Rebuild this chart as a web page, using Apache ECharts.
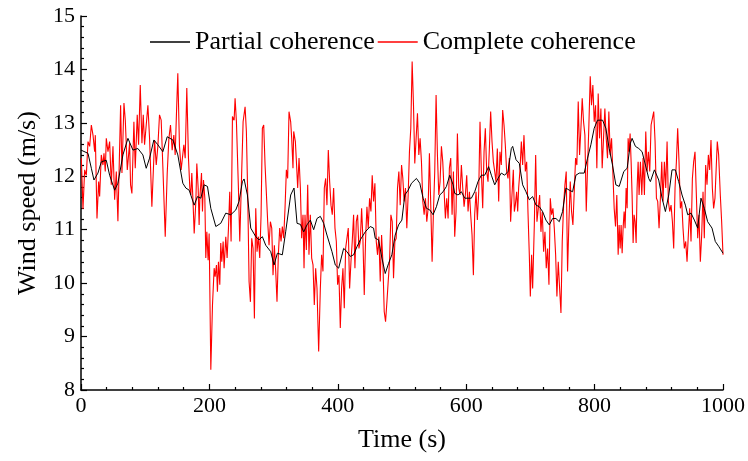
<!DOCTYPE html>
<html><head><meta charset="utf-8">
<script src="https://cdn.jsdelivr.net/npm/echarts@6/dist/echarts.min.js"></script>
<style>html,body{margin:0;padding:0;background:#fff}#c{width:748px;height:461px}</style>
</head><body><div id="c"></div><script>
const seriesNames = ['Partial coherence', 'Complete coherence'];
const xAxisTitle = 'Time (s)';
const yAxisTitle = 'Wind speed (m/s)';

const partialTime = [0,10.9,16.1,20.2,26.4,31.6,39.4,44.6,52.4,57.5,65.3,73.1,80.9,88.6,96.4,101.6,106.8,113.5,119.7,127.5,134.3,143.1,150.8,158.6,163.3,168.5,176.3,181.4,186.6,191.8,197.0,202.2,210.0,217.7,225.5,233.3,241.1,246.2,251.4,254.0,259.2,264.4,272.2,277.3,282.5,287.7,295.5,300.7,305.9,313.6,318.8,326.6,331.8,336.5,341.7,346.9,352.0,357.2,362.4,367.6,372.8,378.0,383.1,390.9,396.1,401.3,409.1,414.2,419.4,424.6,429.8,435.0,442.8,450.5,455.7,458.3,463.5,468.7,473.9,479.1,484.2,489.4,494.6,499.8,504.4,509.6,514.8,522.5,527.7,532.9,538.1,543.3,548.4,553.6,558.8,564.0,569.2,574.4,579.6,582.1,587.3,592.5,597.7,608.1,613.2,618.4,623.6,628.8,635.0,639.2,644.4,649.5,654.7,659.9,665.1,670.3,672.4,677.6,682.8,687.9,693.1,698.3,703.5,708.7,713.9,719.0,724.2,729.4,734.6,739.8,745.0,750.1,755.3,760.5,765.7,770.9,776.1,783.8,789.0,794.2,799.4,804.6,812.4,817.5,822.7,827.9,833.1,838.3,840.3,845.5,850.7,855.8,858.4,863.6,868.8,874.0,879.2,884.3,886.9,893.2,899.9,905.1,910.3,915.5,920.6,925.8,931.0,936.2,941.4,945.0,950.2,955.4,960.6,965.7,970.9,976.1,982.9,988.0,993.2,1000];
const partialSpeed = [12.49,12.43,12.15,11.93,12.06,12.27,12.30,12.02,11.74,11.87,12.40,12.71,12.49,12.52,12.40,12.15,12.34,12.68,12.59,12.46,12.74,12.68,12.40,11.87,11.78,11.74,11.46,11.62,11.59,11.84,11.81,11.40,11.06,11.12,11.31,11.28,11.37,11.53,11.90,11.95,11.65,11.03,10.87,10.81,10.87,10.71,10.59,10.34,10.56,10.53,10.96,11.65,11.78,11.12,11.10,10.96,11.09,11.18,11.00,11.21,11.25,11.12,10.90,10.59,10.34,10.28,10.65,10.59,10.50,10.53,10.68,10.81,10.96,11.06,11.03,10.84,10.81,10.47,10.18,10.37,10.53,10.90,11.09,11.18,11.65,11.74,11.87,11.96,11.87,11.59,11.40,11.37,11.28,11.43,11.65,11.71,11.81,12.02,11.84,11.68,11.65,11.71,11.59,11.59,11.71,11.90,12.02,12.02,12.18,12.02,11.84,11.96,12.06,12.02,12.09,12.52,12.56,12.31,12.24,11.84,11.71,11.56,11.62,11.46,11.43,11.34,11.18,11.09,11.21,11.21,11.15,11.34,11.78,11.74,11.71,12.02,12.06,12.06,12.34,12.59,12.90,13.05,13.05,12.90,12.52,12.21,11.84,11.81,11.78,12.09,12.15,12.62,12.71,12.56,12.52,12.46,12.21,11.96,11.90,12.12,11.93,11.59,11.34,11.65,12.12,12.12,11.90,11.65,11.46,11.28,11.31,11.18,11.03,11.59,11.40,11.15,11.03,10.78,10.69,10.56];

const completeTime = [0.5,3.1,5.7,8.3,10.9,13.5,16.1,18.7,21.3,22.3,24.9,27.5,29.0,31.6,34.2,35.8,37.8,39.4,42.0,44.6,47.2,49.8,52.4,55.0,57.5,61.7,63.8,66.9,69.0,72.1,75.7,77.2,79.3,82.4,84.5,87.6,89.7,92.3,94.9,97.0,99.0,104.2,106.8,110.4,114.6,117.2,119.7,122.3,124.9,127.5,131.2,134.3,136.9,139.4,142.0,144.6,146.7,148.8,150.8,153.4,156.0,160.2,162.3,164.8,167.4,169.5,171.1,172.6,174.7,176.3,178.9,180.4,182.5,184.0,185.1,187.7,189.2,190.8,192.9,194.4,196.0,198.0,199.6,202.2,204.8,207.4,208.9,211.0,212.5,214.1,216.2,217.7,219.3,221.4,222.9,225.5,227.6,229.7,231.7,233.8,235.9,238.5,240.0,242.1,245.2,247.3,250.4,252.5,255.6,257.6,259.7,261.8,263.9,265.9,268.0,270.1,272.2,274.2,276.3,278.4,280.5,282.5,284.6,286.7,288.8,290.8,292.9,295.0,297.1,299.1,301.2,303.3,305.3,307.4,309.5,311.6,313.6,315.7,317.8,319.9,321.9,324.0,326.6,328.2,330.2,331.3,333.9,335.4,337.5,339.6,341.7,343.7,345.8,347.4,348.9,351.0,353.1,355.1,357.2,359.3,361.4,363.4,365.5,367.6,370.2,372.8,374.8,376.9,379.0,381.1,383.1,385.2,387.3,389.4,391.4,393.5,395.6,397.7,399.7,401.8,403.9,405.9,408.0,410.1,412.2,414.2,416.3,418.4,420.5,422.5,424.6,426.7,428.8,430.8,432.9,435.0,437.1,439.1,441.2,443.3,445.4,447.4,449.5,451.6,453.6,455.7,457.8,459.9,461.9,464.0,466.1,468.2,470.2,472.3,474.4,476.5,478.5,480.6,482.7,484.8,486.8,488.9,491.0,493.0,495.1,497.2,499.3,501.3,503.3,505.4,507.5,509.6,511.6,513.7,515.8,517.9,519.9,522.0,524.1,526.2,528.2,530.3,532.4,534.5,536.5,538.6,540.7,542.7,544.8,546.9,549.0,551.0,553.1,555.2,557.3,559.3,561.4,563.5,565.6,567.6,569.7,571.8,573.8,575.9,578.0,580.1,582.1,584.2,586.3,588.4,590.4,592.5,594.6,596.7,598.7,600.8,602.9,605.0,607.0,609.1,611.2,613.2,615.3,617.4,619.5,621.5,623.6,625.7,627.8,629.8,631.9,634.0,636.1,638.1,640.2,642.3,644.4,646.4,648.5,650.6,652.6,654.7,656.8,658.9,660.9,663.0,665.1,667.2,669.2,671.3,673.4,675.0,676.5,678.6,680.2,681.7,683.8,685.9,687.9,690.0,692.1,694.2,696.2,698.3,699.9,701.9,703.5,706.1,708.2,710.2,712.3,714.4,716.4,718.5,720.6,722.7,724.7,726.8,728.9,731.0,733.0,735.1,737.2,739.3,741.3,743.4,745.5,747.6,749.6,751.7,753.8,755.8,757.9,760.0,762.1,764.1,766.2,768.3,770.4,772.4,774.5,776.6,778.7,780.7,782.8,784.9,787.0,789.0,791.1,793.2,795.2,797.3,799.4,801.5,803.5,805.6,807.7,809.8,811.8,813.9,816.0,818.1,820.1,822.2,824.3,826.4,828.4,830.5,832.6,834.6,836.7,838.2,839.8,841.3,842.9,844.4,846.0,847.5,849.1,850.7,852.2,853.8,855.3,856.9,858.4,860.0,861.5,863.1,864.7,866.2,867.8,869.3,871.4,873.5,875.5,877.6,879.7,881.8,883.8,885.9,888.0,890.1,892.1,894.2,896.3,898.3,900.4,902.5,904.6,906.6,908.7,910.8,912.9,914.9,917.0,919.1,921.2,923.2,925.3,927.4,929.4,931.5,933.6,935.7,937.7,939.8,941.9,944.0,946.0,948.1,950.2,952.3,954.3,956.4,958.5,960.6,962.6,964.7,966.8,968.9,970.9,973.0,975.1,977.2,979.2,981.3,983.4,985.4,987.5,989.6,991.1,993.2,995.8,997.9,1000];
const completeSpeed = [12.34,11.39,12.12,12.02,12.65,12.56,12.96,12.77,12.46,12.77,11.21,11.90,11.62,12.40,12.21,12.43,12.09,12.71,12.46,12.65,11.84,12.56,11.56,12.09,11.16,13.33,12.06,13.37,13.05,12.12,12.62,11.84,11.68,13.02,12.15,13.15,12.59,13.71,12.62,13.15,12.59,13.33,12.71,11.43,12.68,12.21,12.56,13.15,13.05,12.18,10.87,12.06,12.71,12.96,12.49,12.77,12.40,13.21,13.93,12.56,12.12,12.59,12.34,13.65,12.34,11.78,11.65,12.06,11.46,10.93,11.53,12.24,11.78,11.09,11.59,12.06,11.34,11.93,11.59,10.47,10.96,10.43,10.93,8.38,9.59,10.28,10.12,10.34,9.84,10.40,9.97,10.75,10.40,10.78,10.28,10.87,10.47,11.03,11.71,10.78,13.12,13.05,13.46,13.02,11.78,10.78,12.12,13.02,13.30,12.84,11.65,10.03,9.65,10.84,10.65,9.34,11.40,10.59,10.87,10.47,11.28,12.90,12.96,12.21,12.18,11.15,10.71,11.15,11.03,10.15,10.71,10.22,9.65,10.53,11.03,10.78,11.06,10.84,11.40,12.12,11.96,13.21,13.02,12.71,12.15,12.84,12.65,12.31,11.78,12.34,11.78,10.84,11.28,10.28,11.28,10.62,11.84,10.53,11.28,10.47,10.34,9.59,10.28,9.90,8.72,9.90,10.53,10.22,11.78,11.96,11.46,12.49,11.90,11.46,11.28,11.78,11.03,10.78,9.97,10.15,9.16,9.90,10.28,9.53,10.65,10.68,11.03,9.90,10.40,10.78,11.28,10.28,11.15,11.28,10.65,10.78,11.40,10.84,9.78,10.84,11.43,11.03,11.59,11.34,12.02,11.53,11.87,10.78,10.53,10.87,10.03,10.90,10.40,9.47,9.28,9.65,10.03,10.40,11.28,11.15,10.09,10.78,10.84,11.78,12.09,11.46,12.21,11.96,11.53,11.78,11.03,11.65,12.46,12.90,14.15,13.33,12.24,12.71,13.18,12.40,12.71,12.27,11.53,11.28,11.59,11.15,11.40,12.43,11.46,10.40,11.34,12.09,13.52,12.40,11.65,11.90,12.56,12.27,11.71,11.21,11.59,11.21,12.15,12.34,11.28,12.09,10.87,11.34,12.80,11.78,11.65,12.21,11.78,11.43,11.65,12.02,11.34,11.71,11.28,10.90,10.15,11.28,11.71,11.18,11.71,13.02,12.09,11.40,12.46,12.90,12.09,11.90,12.52,13.21,12.65,12.27,12.09,11.90,12.52,11.53,12.46,12.21,13.24,12.96,12.59,12.09,11.96,12.34,11.15,11.65,12.12,11.34,11.46,11.71,11.34,11.78,12.12,12.65,12.21,12.77,12.09,12.27,11.34,10.53,9.75,10.53,9.90,11.09,12.40,11.15,11.40,11.65,10.96,11.34,10.59,10.96,10.28,10.65,9.97,11.59,11.28,11.40,11.03,10.53,9.75,10.40,9.90,9.44,10.78,11.46,11.84,12.09,10.22,11.15,11.90,11.34,11.09,11.71,12.34,12.21,13.40,12.40,12.90,13.46,13.02,12.77,11.34,12.15,12.96,13.87,13.33,13.71,13.02,13.33,12.15,13.55,12.71,13.27,12.15,12.71,13.27,12.71,12.34,13.21,12.40,12.71,12.09,11.40,11.06,11.65,10.53,11.09,10.65,11.09,10.56,11.03,11.34,11.03,11.78,11.40,12.71,12.46,12.80,12.27,11.65,10.75,11.28,11.15,10.75,11.78,12.27,11.65,12.27,11.65,12.34,11.65,12.84,12.09,12.46,12.09,12.96,13.09,13.21,12.65,11.59,11.53,11.03,11.59,12.27,11.53,12.27,11.78,12.65,11.53,11.34,11.46,11.15,10.65,11.78,12.27,12.90,12.27,11.40,11.53,11.03,10.65,10.78,10.40,10.90,11.40,10.78,11.96,12.27,12.46,11.65,10.84,11.28,10.40,10.90,11.71,10.84,12.21,11.84,12.40,12.12,12.68,11.78,11.40,11.59,12.21,12.65,12.40,11.65,11.15,10.53];

const zip = (t, v) => t.map((x, i) => [x, v[i]]);
const font = 'Liberation Serif, Times New Roman, serif';

const chart = echarts.init(document.getElementById('c'), null, {renderer: 'canvas'});
chart.setOption({
  animation: false,
  backgroundColor: '#fff',
  grid: {left: 81, right: 24, top: 16, bottom: 71, containLabel: false},
  legend: {
    data: [seriesNames[0], seriesNames[1]],
    left: 150, top: 28, padding: 0,
    icon: 'rect',
    itemWidth: 40, itemHeight: 1.3, itemGap: 3,
    textStyle: {fontFamily: font, fontSize: 26, color: '#000', lineHeight: 28}
  },
  xAxis: {
    type: 'value', min: 0, max: 1000, interval: 200,
    name: xAxisTitle, nameLocation: 'middle', nameGap: 37,
    nameTextStyle: {fontFamily: font, fontSize: 26, color: '#000'},
    axisLine: {show: true, lineStyle: {color: '#000', width: 1.5}},
    axisTick: {show: true, inside: true, length: 6, lineStyle: {color: '#000', width: 1.2}},
    minorTick: {show: true, splitNumber: 5, length: 3, lineStyle: {color: '#000', width: 1.2}},
    axisLabel: {fontFamily: font, fontSize: 22, color: '#000', margin: 5, formatter: v => String(v)},
    splitLine: {show: false}
  },
  yAxis: {
    type: 'value', min: 8, max: 15, interval: 1,
    name: yAxisTitle, nameLocation: 'middle', nameGap: 40, nameRotate: 90,
    nameTextStyle: {fontFamily: font, fontSize: 26, color: '#000'},
    axisLine: {show: true, lineStyle: {color: '#000', width: 1.5}},
    axisTick: {show: true, inside: true, length: 6, lineStyle: {color: '#000', width: 1.2}},
    minorTick: {show: true, splitNumber: 5, length: 3, lineStyle: {color: '#000', width: 1.2}},
    axisLabel: {fontFamily: font, fontSize: 22, color: '#000', margin: 6, formatter: v => String(v)},
    splitLine: {show: false}
  },
  series: [
    {name: seriesNames[1], type: 'line', data: zip(completeTime, completeSpeed), symbol: 'none',
     lineStyle: {color: '#ff0000', width: 1.1}, itemStyle: {color: '#ff0000'}},
    {name: seriesNames[0], type: 'line', data: zip(partialTime, partialSpeed), symbol: 'none',
     lineStyle: {color: '#000', width: 1}, itemStyle: {color: '#000'}}
  ]
});
</script></body></html>
